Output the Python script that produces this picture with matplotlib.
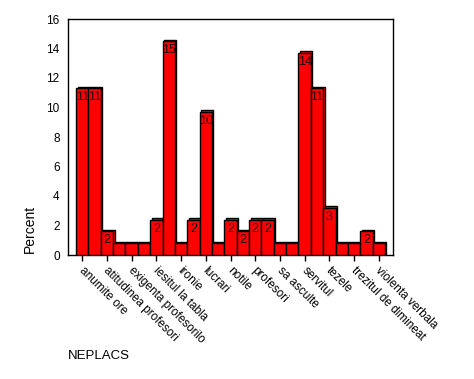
import matplotlib
matplotlib.use("Agg")
import matplotlib.pyplot as plt
import matplotlib.transforms as mtransforms
import numpy as np

plt.rcParams['font.family'] = ['Liberation Sans', 'DejaVu Sans']

# Data: 25 categories (label shown on every other bar), percent values
categories = list(range(25))
tick_labels = ["anumite ore", "atitudinea profesori", "exigenta profesorilo",
               "iesitul la tabla", "ironie", "lucrari", "notile", "profesori",
               "sa asculte", "servitul", "tezele", "trezitul de dimineat",
               "violenta verbala"]
percent = [11.3, 11.3, 1.6, 0.8, 0.8, 0.8, 2.4, 14.5, 0.8, 2.4, 9.7, 0.8,
           2.4, 1.6, 2.4, 2.4, 0.8, 0.8, 13.7, 11.3, 3.2, 0.8, 0.8, 1.6, 0.8]
value_labels = ["11", "11", "2", "", "", "", "2", "15", "", "2", "10", "",
                "2", "2", "2", "2", "", "", "14", "11", "3", "", "", "2", ""]

fig = plt.figure(figsize=(4.74, 3.79), dpi=100)
ax = fig.add_axes([68/474, 1-255/379, (393-68)/474, (255-19)/379])

x = np.arange(len(categories))
# shadow (3D offset) bars
ax.bar(x + 0.12, np.array(percent) + 0.1, width=1.0, color='#ff0000',
       edgecolor='black', linewidth=1.0, zorder=2)
# front bars
ax.bar(x, percent, width=1.0, color='#ff0000', edgecolor='black',
       linewidth=1.0, zorder=3)

for xi, v, lab in zip(x, percent, value_labels):
    if lab:
        ax.text(xi, v - 0.2, lab, ha='center', va='top', fontsize=9,
                color='#1a0000', zorder=4)

ax.set_xlim(-1.15, 25.15)
ax.set_ylim(0, 16)
ax.set_yticks(range(0, 17, 2))
ax.set_yticklabels([str(v) for v in range(0, 17, 2)], fontsize=8.5)
ax.tick_params(axis='y', length=0, pad=6)

ax.set_xticks(x[::2])
ax.set_xticklabels(tick_labels, rotation=-45, ha='left', va='top',
                   rotation_mode='anchor', fontsize=8.5)
ax.tick_params(axis='x', length=4, width=1, pad=3)
offset = mtransforms.ScaledTranslation(3/100, 0, fig.dpi_scale_trans)
for lbl in ax.get_xticklabels():
    lbl.set_transform(lbl.get_transform() + offset)

for s in ax.spines.values():
    s.set_linewidth(1.0)

fig.text(30/474, 1-229/379, "Percent", rotation=90, ha='center', va='center',
         fontsize=10)
fig.text(68/474, 1-356/379, "NEPLACS", ha='left', va='center', fontsize=9.5)

fig.savefig("out.png", dpi=100)
